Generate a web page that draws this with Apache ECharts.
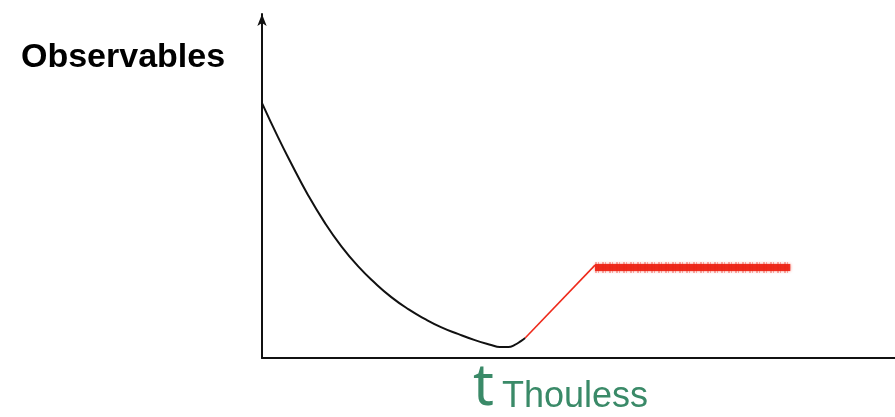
<!DOCTYPE html>
<html>
<head>
<meta charset="utf-8">
<script src="https://cdn.jsdelivr.net/npm/echarts@6/dist/echarts.min.js"></script>
<style>
  html, body { margin: 0; padding: 0; background: #fff; }
  #chart { width: 895px; height: 417px; }
</style>
</head>
<body>
<div id="chart"></div>
<script>
// Early-time decay of the observable (time, value) in arbitrary units
const decayTime = [0, 2.45, 4.44, 7.04, 9.65, 12.1, 14.7, 17.3, 19.8, 22.4, 25.0, 27.4, 30.0, 32.6, 35.1, 36.4, 37.7, 38.7, 39.7, 40.3];
const decayValue = [74.1, 64.2, 56.7, 47.4, 39.2, 32.6, 26.7, 21.8, 17.7, 14.2, 11.3, 9.0, 7.0, 5.2, 3.8, 3.2, 3.2, 3.8, 5.0, 5.8];

// Linear ramp after the Thouless time
const rampTime = [40.3, 51.0];
const rampValue = [5.8, 27.0];

// Fluctuating plateau at late times
const plateauTime = [51.0, 80.9];
const plateauValue = [26.3, 26.3];

const yAxisTitle = 'Observables';
const markTitle = 't';
const markSub = 'Thouless';

const pairs = (xs, ys) => xs.map((x, i) => [x, ys[i]]);
const red = '#ee2a1b';
const green = '#3a8a68';

const chart = echarts.init(document.getElementById('chart'));
chart.setOption({
  animation: false,
  backgroundColor: '#fff',
  grid: { left: 262, width: 653, top: 14, bottom: 59, outerBoundsMode: 'none' },
  xAxis: {
    type: 'value', min: 0, max: 100,
    axisLine: { show: true, symbol: ['none', 'arrow'], symbolSize: [7, 12],
      lineStyle: { color: '#111', width: 2 } },
    axisTick: { show: false }, axisLabel: { show: false }, splitLine: { show: false }
  },
  yAxis: {
    type: 'value', min: 0, max: 100,
    axisLine: { show: true, symbol: ['none', 'arrow'], symbolSize: [7, 12],
      lineStyle: { color: '#111', width: 2 } },
    axisTick: { show: false }, axisLabel: { show: false }, splitLine: { show: false }
  },
  series: [
    {
      type: 'line', data: pairs(decayTime, decayValue), smooth: 0.5,
      showSymbol: false, lineStyle: { color: '#111', width: 2 }
    },
    {
      type: 'line', data: pairs(rampTime, rampValue),
      showSymbol: false, lineStyle: { color: red, width: 1.6 }
    },
    {
      // speckled outer edge of the noisy plateau
      type: 'line', data: pairs(plateauTime, plateauValue),
      showSymbol: false, silent: true,
      lineStyle: { color: 'rgba(238,42,27,0.35)', width: 11, cap: 'butt', type: [2, 1, 1, 3] }
    },
    {
      type: 'line', data: pairs(plateauTime, plateauValue),
      showSymbol: false,
      lineStyle: { color: 'rgba(236,32,18,0.9)', width: 7, cap: 'butt',
        shadowBlur: 3, shadowColor: 'rgba(236,32,18,0.7)' }
    }
  ],
  graphic: [
    {
      type: 'text', left: 21, top: 41,
      style: { text: yAxisTitle, fill: '#000', font: 'bold 34px "Liberation Sans", Arial, sans-serif' }
    },
    {
      type: 'text', left: 473, top: 359,
      style: { text: markTitle, fill: green, font: '58px "Noto Sans", "Liberation Sans", sans-serif' }
    },
    {
      type: 'text', left: 502, top: 379,
      style: { text: markSub, fill: green, font: '36px "Liberation Sans", Arial, sans-serif' }
    }
  ]
});
</script>
</body>
</html>
